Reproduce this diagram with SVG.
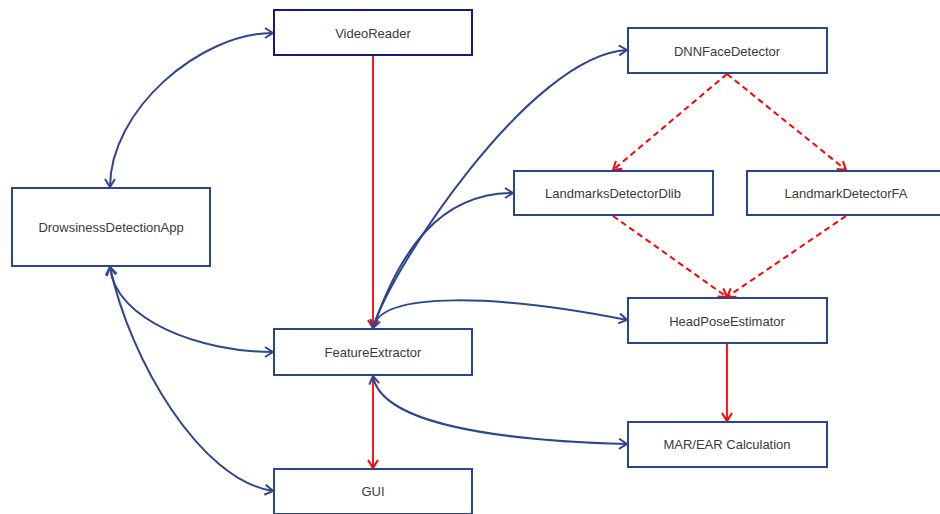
<svg xmlns="http://www.w3.org/2000/svg" width="940" height="514" viewBox="0 0 940 514">
<style>
.box{fill:#fff;stroke:#2a4494;stroke-width:2}
.dark{stroke:#16187a}
.lbl{font-family:"Liberation Sans",Arial,sans-serif;font-size:13px;fill:#3a3a3a;text-anchor:middle;dominant-baseline:central}
.blue{fill:none;stroke:#2e4590;stroke-width:2;marker-start:url(#ab);marker-end:url(#ab)}
.blue1{fill:none;stroke:#2e4590;stroke-width:2;marker-end:url(#ab)}
.red{fill:none;stroke:#ff0000;stroke-width:1.8;marker-end:url(#ar)}
.dash{stroke-dasharray:6 4;stroke-width:2}
</style>
<defs>
<marker id="ab" markerUnits="userSpaceOnUse" viewBox="0 0 10 12" markerWidth="10" markerHeight="12" refX="9" refY="6" orient="auto-start-reverse">
<path d="M1,1 L9,6 L1,11" fill="none" stroke="#2e4590" stroke-width="2"/>
</marker>
<marker id="ar" markerUnits="userSpaceOnUse" viewBox="0 0 10 12" markerWidth="10" markerHeight="12" refX="9" refY="6" orient="auto">
<path d="M1,1 L9,6 L1,11" fill="none" stroke="#ff0000" stroke-width="2"/>
</marker>
</defs>
<g id="connectors">
<path class="red" d="M373,56 L373,328"/>
<path class="red" d="M373,376 L373,468"/>
<path class="red" d="M727,344 L727,421"/>
<path class="red dash" d="M727,74 L613,170"/>
<path class="red dash" d="M727,74 L846,170"/>
<path class="red dash" d="M613,216 L727,297"/>
<path class="red dash" d="M846,216 L727,297"/>
<path class="blue" d="M110,187 C110,110 200,33 273,33"/>
<path class="blue" d="M110,267 C115,320 200,352 273,352"/>
<path class="blue" d="M110,267 C130,360 200,480 273,491"/>
<path class="blue" d="M373,328 C390,270 530,55 627,50"/>
<path class="blue1" d="M373,328 C400,250 440,193 513,193"/>
<path class="blue1" d="M373,328 C380,290 500,295 627,320"/>
<path class="blue" d="M373,376 C380,420 480,440 627,444"/>
</g>
<g id="VideoReader"><rect class="box dark" x="274" y="10" width="198" height="45"/><text class="lbl" x="373" y="33">VideoReader</text></g>
<g id="DrowsinessDetectionApp"><rect class="box" x="12" y="188" width="198" height="78"/><text class="lbl" x="111" y="227">DrowsinessDetectionApp</text></g>
<g id="FeatureExtractor"><rect class="box" x="274" y="329" width="198" height="46"/><text class="lbl" x="373" y="352">FeatureExtractor</text></g>
<g id="GUI"><rect class="box" x="274" y="469" width="198" height="45"/><text class="lbl" x="373" y="491">GUI</text></g>
<g id="DNNFaceDetector"><rect class="box" x="628" y="28" width="199" height="45"/><text class="lbl" x="727" y="51">DNNFaceDetector</text></g>
<g id="LandmarksDetectorDlib"><rect class="box" x="514" y="171" width="199" height="44"/><text class="lbl" x="613" y="193">LandmarksDetectorDlib</text></g>
<g id="LandmarkDetectorFA"><rect class="box" x="747" y="171" width="199" height="44"/><text class="lbl" x="846" y="193">LandmarkDetectorFA</text></g>
<g id="HeadPoseEstimator"><rect class="box" x="628" y="298" width="199" height="45"/><text class="lbl" x="727" y="321">HeadPoseEstimator</text></g>
<g id="MARCalc"><rect class="box" x="628" y="422" width="199" height="45"/><text class="lbl" x="727" y="444">MAR/EAR Calculation</text></g>
</svg>
